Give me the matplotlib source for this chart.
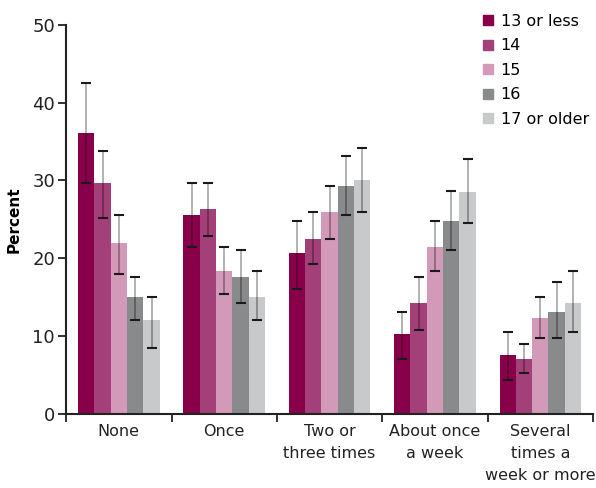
import matplotlib.pyplot as plt
import numpy as np
from matplotlib.lines import Line2D

categories = ["None", "Once", "Two or\nthree times", "About once\na week", "Several\ntimes a\nweek or more"]
groups = ["13 or less", "14", "15", "16", "17 or older"]
colors = ["#88004a", "#a44079", "#d399b8", "#898a8c", "#c8c9cb"]

# percent values, rows = age group, cols = category
values = [
    [36.1, 25.6, 20.7, 10.2, 7.5],
    [29.7, 26.3, 22.5, 14.3, 7.1],
    [21.9, 18.4, 26.0, 21.5, 12.3],
    [15.0, 17.6, 29.3, 24.8, 13.1],
    [12.0, 15.0, 30.1, 28.5, 14.3],
]
err_low = [
    [29.7, 21.4, 16.1, 7.1, 4.4],
    [25.2, 22.9, 19.2, 10.8, 5.2],
    [18.0, 15.4, 22.5, 18.4, 9.7],
    [12.0, 14.2, 25.6, 21.1, 9.7],
    [8.5, 12.0, 26.0, 24.5, 10.5],
]
err_high = [
    [42.5, 29.7, 24.8, 13.1, 10.5],
    [33.8, 29.7, 26.0, 17.6, 9.0],
    [25.6, 21.4, 29.3, 24.8, 15.0],
    [17.6, 21.1, 33.1, 28.6, 16.9],
    [15.0, 18.4, 34.2, 32.7, 18.4],
]

fig = plt.figure(figsize=(5.96, 4.88), dpi=100)
ax = fig.add_axes([0.111, 0.152, 0.884, 0.797])

x = np.arange(len(categories))
w = 0.155
for i, g in enumerate(groups):
    pos = x + (i - 2) * w
    v = np.array(values[i])
    lo = v - np.array(err_low[i])
    hi = np.array(err_high[i]) - v
    ax.bar(pos, v, w, color=colors[i], label=g, zorder=2)
    eb = ax.errorbar(pos, v, yerr=[lo, hi], fmt="none", ecolor=(0, 0, 0, 0.3),
                     elinewidth=1.4, capsize=3.5, capthick=1.5, zorder=3)
    for cl in eb[1]:
        cl.set_markeredgecolor("#1a1a1a")
        cl.set_color("#1a1a1a")

ax.set_xlim(-0.5, 4.5)
ax.set_ylim(0, 50)
ax.set_yticks([0, 10, 20, 30, 40, 50])
ax.tick_params(axis="y", labelsize=13, length=6, width=1.3, colors="#222222", pad=2)
ax.set_xticks(x)
ax.set_xticklabels(categories, fontsize=11.5, color="#222222", linespacing=1.6)
ax.tick_params(axis="x", length=0, pad=7)
ax.set_xticks(np.arange(-0.5, 5, 1), minor=True)
ax.tick_params(axis="x", which="minor", length=6, width=1.3, color="#222222")
for s in ["top", "right"]:
    ax.spines[s].set_visible(False)
for s in ["left", "bottom"]:
    ax.spines[s].set_linewidth(1.5)
    ax.spines[s].set_color("#222222")
ax.set_ylabel("Percent", fontsize=11, fontweight="bold", labelpad=8)

handles = [Line2D([], [], marker="s", linestyle="none", markersize=7.5,
                  markerfacecolor=c, markeredgecolor=c) for c in colors]
fig.legend(handles, groups, loc="upper left", bbox_to_anchor=(0.797, 0.985),
           frameon=False, fontsize=11.5, handlelength=0.8, handletextpad=0.4,
           labelspacing=0.6, borderaxespad=0)

fig.savefig("out.png", dpi=100)
